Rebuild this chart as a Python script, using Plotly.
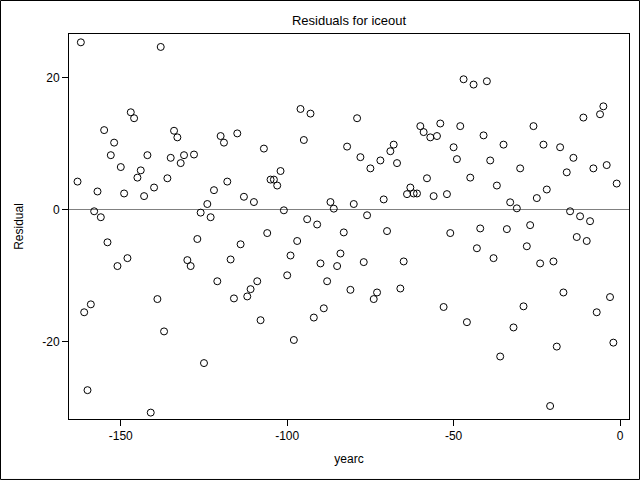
import plotly.graph_objects as go

# yearc runs over consecutive years, one residual per year
yearc = list(range(-163, 0))

residual = [
    4.2, 25.3, -15.6, -27.4, -14.4, -0.3, 2.7, -1.2, 12.0, -5.0,      # -163 .. -154
    8.2, 10.1, -8.6, 6.4, 2.4, -7.4, 14.7, 13.8, 4.8, 5.9,            # -153 .. -144
    2.0, 8.2, -30.8, 3.3, -13.6, 24.6, -18.5, 4.7, 7.8, 11.9,         # -143 .. -134
    10.9, 7.0, 8.2, -7.7, -8.6, 8.3, -4.5, -0.5, -23.3, 0.8,          # -133 .. -124
    -1.2, 2.9, -10.9, 11.1, 10.1, 4.2, -7.6, -13.5, 11.5, -5.3,       # -123 .. -114
    1.9, -13.2, -12.1, 1.1, -10.9, -16.8, 9.2, -3.6, 4.5, 4.5,        # -113 .. -104
    3.6, 5.8, -0.15, -10.0, -7.0, -19.8, -4.8, 15.2, 10.5, -1.5,      # -103 .. -94
    14.5, -16.4, -2.3, -8.2, -15.0, -10.9, 1.1, 0.1, -8.6, -6.7,      # -93 .. -84
    -3.5, 9.5, -12.2, 0.8, 13.8, 7.9, -8.0, -0.9, 6.2, -13.6,         # -83 .. -74
    -12.6, 7.4, 1.5, -3.3, 8.8, 9.8, 7.0, -12.0, -7.9, 2.3,           # -73 .. -64
    3.3, 2.4, 2.4, 12.6, 11.7, 4.7, 10.9, 2.0, 11.1, 13.0,            # -63 .. -54
    -14.8, 2.3, -3.6, 9.4, 7.6, 12.6, 19.7, -17.1, 4.8, 18.9,         # -53 .. -44
    -5.9, -2.9, 11.2, 19.4, 7.4, -7.4, 3.6, -22.3, 9.8, -3.0,         # -43 .. -34
    1.06, -17.9, 0.15, 6.2, -14.7, -5.6, -2.4, 12.6, 1.7, -8.2,       # -33 .. -24
    9.8, 3.0, -29.8, -7.9, -20.8, 9.4, -12.6, 5.6, -0.3, 7.8,         # -23 .. -14
    -4.2, -1.06, 13.9, -4.8, -1.8, 6.2, -15.6, 14.4, 15.6, 6.7,       # -13 .. -4
    -13.3, -20.2, 3.9,                                               # -3 .. -1
]

x_ticks = [-150, -100, -50, 0]
x_ticktext = ["-150", "-100", "-50", "0"]
y_ticks = [-20, 0, 20]
y_ticktext = ["-20", "0", "20"]

FONT = "Liberation Sans, Arial, sans-serif"

fig = go.Figure()

fig.add_trace(go.Scatter(
    x=yearc,
    y=residual,
    mode="markers",
    marker=dict(symbol="circle-open", size=7, color="black",
                line=dict(color="black", width=1)),
    showlegend=False,
))

fig.update_layout(
    width=640,
    height=480,
    paper_bgcolor="white",
    plot_bgcolor="white",
    margin=dict(l=69, r=11, t=34, b=61),
    font=dict(family=FONT, size=12, color="black"),
    title=dict(text="Residuals for iceout", x=0.5, xref="paper",
               y=1 - 20 / 480, yref="container", yanchor="middle",
               font=dict(family=FONT, size=13, color="black")),
)

fig.update_xaxes(
    range=[-165.56, 2.7],
    tickvals=x_ticks, ticktext=x_ticktext,
    ticks="outside", ticklen=6, tickcolor="black",
    showline=True, linecolor="black", linewidth=1, mirror=True,
    showgrid=False, zeroline=False,
    title=dict(text="yearc", standoff=12, font=dict(size=12)),
)

fig.update_yaxes(
    range=[-31.77, 26.56],
    tickvals=y_ticks, ticktext=y_ticktext,
    ticks="outside", ticklen=6, tickcolor="black",
    showline=True, linecolor="black", linewidth=1, mirror=True,
    showgrid=False,
    zeroline=True, zerolinecolor="#808080", zerolinewidth=1,
    title=dict(text="Residual", standoff=16, font=dict(size=12)),
)

# thin black frame round the whole picture
fig.add_shape(type="rect", xref="paper", yref="paper",
              x0=-0.1223, x1=1.0188, y0=-0.1571, y1=1.0870,
              line=dict(color="black", width=1))

# drop the browser's default page margin so the figure sits at (0, 0)
fig.write_html("out.html",
               config={"displayModeBar": False},
               post_script="document.body.style.margin='0';")
